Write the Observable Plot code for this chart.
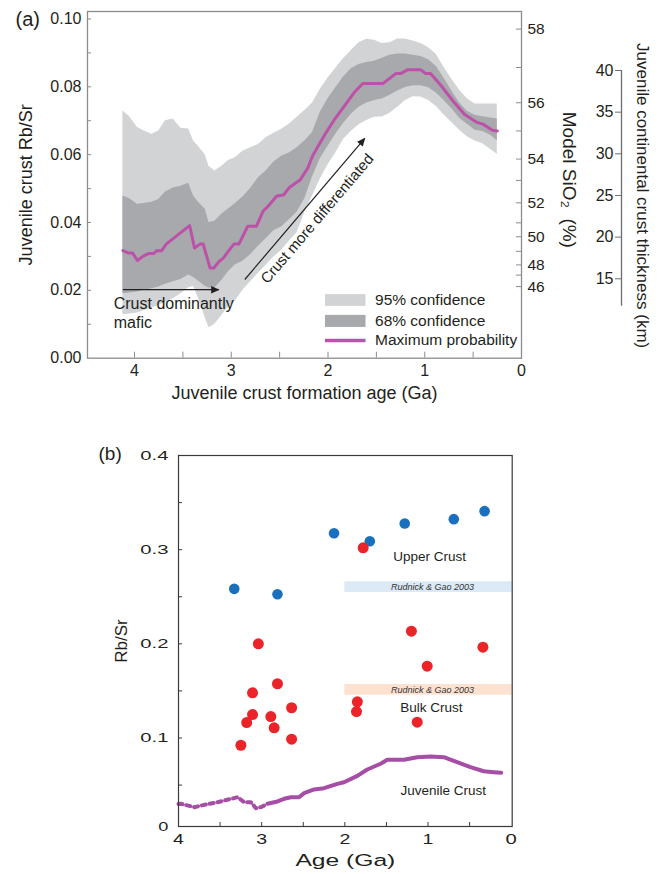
<!DOCTYPE html>
<html><head><meta charset="utf-8">
<script src="https://cdn.jsdelivr.net/npm/d3@7"></script>
<script src="https://cdn.jsdelivr.net/npm/@observablehq/plot@0.6"></script>
<style>
body{margin:0;background:#fff;}
#wrap{position:relative;width:658px;height:874px;}
</style></head><body><div id="wrap"></div>
<script>
// ---------- Panel (a) data ----------
const ageGridA = [4.12,4.05,3.97,3.90,3.82,3.75,3.68,3.60,3.52,3.44,3.39,3.33,3.27,3.23,3.17,3.10,3.03,2.96,2.88,2.80,2.72,2.64,2.56,2.48,2.40,2.32,2.24,2.16,2.08,2.00,1.92,1.84,1.76,1.68,1.60,1.52,1.44,1.36,1.28,1.20,1.12,1.04,0.96,0.88,0.80,0.72,0.64,0.56,0.48,0.40,0.32,0.25];
const upper95 = [0.0729,0.0712,0.0680,0.0670,0.0660,0.0670,0.0700,0.0705,0.0678,0.0676,0.0640,0.0621,0.0600,0.0565,0.0552,0.0565,0.0583,0.0591,0.0610,0.0620,0.0630,0.0650,0.0663,0.0675,0.0690,0.0710,0.0730,0.0752,0.0793,0.0826,0.0855,0.0883,0.0907,0.0930,0.0940,0.0937,0.0928,0.0930,0.0941,0.0941,0.0935,0.0928,0.0915,0.0895,0.0857,0.0822,0.0790,0.0765,0.0749,0.0749,0.0749,0.0749];
const upper68 = [0.0478,0.0470,0.0454,0.0456,0.0460,0.0468,0.0490,0.0502,0.0507,0.0516,0.0478,0.0457,0.0440,0.0400,0.0404,0.0424,0.0440,0.0455,0.0475,0.0500,0.0532,0.0552,0.0578,0.0595,0.0605,0.0620,0.0640,0.0665,0.0725,0.0765,0.0797,0.0829,0.0853,0.0866,0.0872,0.0875,0.0884,0.0893,0.0897,0.0897,0.0893,0.0889,0.0880,0.0860,0.0825,0.0788,0.0752,0.0728,0.0716,0.0712,0.0708,0.0705];
const lower68 = [0.0190,0.0192,0.0195,0.0200,0.0205,0.0210,0.0218,0.0225,0.0232,0.0245,0.0238,0.0225,0.0212,0.0207,0.0207,0.0228,0.0255,0.0275,0.0286,0.0305,0.0330,0.0352,0.0376,0.0387,0.0408,0.0430,0.0470,0.0535,0.0588,0.0625,0.0660,0.0692,0.0719,0.0740,0.0752,0.0760,0.0764,0.0775,0.0788,0.0798,0.0803,0.0803,0.0797,0.0782,0.0760,0.0735,0.0707,0.0690,0.0672,0.0668,0.0657,0.0641];
const lower95 = [0.0128,0.0130,0.0133,0.0140,0.0148,0.0155,0.0165,0.0175,0.0190,0.0208,0.0212,0.0170,0.0120,0.0090,0.0100,0.0125,0.0150,0.0168,0.0200,0.0225,0.0250,0.0274,0.0298,0.0318,0.0345,0.0370,0.0430,0.0478,0.0528,0.0570,0.0605,0.0645,0.0668,0.0688,0.0701,0.0710,0.0711,0.0722,0.0740,0.0760,0.0771,0.0770,0.0760,0.0742,0.0717,0.0695,0.0672,0.0653,0.0640,0.0632,0.0615,0.0601];
const maxProbAge = [4.12,4.06,4.02,3.97,3.91,3.85,3.80,3.77,3.72,3.67,3.43,3.38,3.32,3.29,3.22,3.18,3.13,3.08,3.01,2.97,2.92,2.83,2.74,2.67,2.62,2.53,2.46,2.40,2.29,2.21,2.16,2.10,2.02,1.93,1.83,1.73,1.64,1.43,1.30,1.25,1.18,1.04,0.99,0.94,0.83,0.71,0.59,0.46,0.40,0.30,0.25];
const maxProbVal = [0.0317,0.0310,0.0310,0.0288,0.0301,0.0309,0.0309,0.0317,0.0317,0.0337,0.0391,0.0325,0.0337,0.0337,0.0266,0.0266,0.0284,0.0296,0.0323,0.0337,0.0337,0.0389,0.0389,0.0434,0.0448,0.0478,0.0481,0.0503,0.0525,0.0560,0.0596,0.0626,0.0665,0.0705,0.0744,0.0783,0.0810,0.0810,0.0839,0.0839,0.0850,0.0850,0.0839,0.0839,0.0803,0.0759,0.0719,0.0695,0.0690,0.0672,0.0670];

const yTicksA = [0, 0.02, 0.04, 0.06, 0.08, 0.10];
const yMinorA = [0.01, 0.02, 0.03, 0.04, 0.05, 0.06, 0.07, 0.08, 0.09, 0.10];
const xTicksA = [4, 3, 2, 1, 0];
const xMinorA = [4, 3.5, 3, 2.5, 2, 1.5, 1, 0.5];
// Model SiO2 axis: label and its Rb/Sr equivalent
const sio2Labels = [46, 48, 50, 52, 54, 56, 58];
const sio2AtRbSr = [0.0211, 0.0275, 0.0358, 0.0458, 0.0587, 0.0753, 0.0970];
const sio2MinorAtRbSr = [0.0245, 0.0315, 0.0399, 0.0524, 0.0670, 0.0857];
// crust thickness axis (km)
const kmTicks = [15, 20, 25, 30, 35, 40];
const kmAxisRange = [11.7, 40];

const legendLabels = ["95% confidence", "68% confidence", "Maximum probability"];
const legendFills = ["#d1d3d4", "#a7a9ac", "#bd50a9"];

// ---------- Panel (b) data ----------
const upperCrustAge = [3.33, 2.81, 2.13, 1.70, 1.28, 0.69, 0.32];
const upperCrustRbSr = [0.2584, 0.2527, 0.3175, 0.3090, 0.3278, 0.3324, 0.3409];
const bulkCrustAge = [1.78, 1.20, 3.04, 2.81, 3.11, 2.64, 3.11, 2.89, 3.18, 2.85, 2.64, 3.25, 1.85, 1.86, 0.34, 1.01, 1.13];
const bulkCrustRbSr = [0.3020, 0.2134, 0.2000, 0.1576, 0.1480, 0.1321, 0.1249, 0.1228, 0.1164, 0.1108, 0.0987, 0.0923, 0.1384, 0.1281, 0.1964, 0.1762, 0.1168];
const juvDotAge = [4.00, 3.97, 3.81, 3.69, 3.53, 3.29, 3.21, 3.13, 3.07, 3.01, 2.93];
const juvDotVal = [0.0300, 0.0301, 0.0265, 0.0290, 0.0318, 0.0371, 0.0318, 0.0318, 0.0254, 0.0265, 0.0300];
const juvAge = [2.93, 2.81, 2.73, 2.65, 2.55, 2.49, 2.37, 2.25, 2.09, 2.01, 1.85, 1.73, 1.57, 1.49, 1.29, 1.13, 0.97, 0.81, 0.65, 0.49, 0.33, 0.21, 0.12];
const juvVal = [0.0301, 0.0326, 0.0354, 0.0371, 0.0371, 0.0414, 0.0453, 0.0467, 0.0513, 0.0530, 0.0598, 0.0665, 0.0726, 0.0768, 0.0768, 0.0796, 0.0803, 0.0796, 0.0743, 0.0690, 0.0647, 0.0637, 0.0630];
const refBandLow = [0.2545, 0.1454];
const refBandHigh = [0.2659, 0.1568];
const refBandFill = ["#dce9f6", "#fde2d2"];
const refBandFromAge = 2.0;
const yTicksB = [0.1, 0.2, 0.3, 0.4];
const yMinorB = [0.05, 0.1, 0.15, 0.2, 0.25, 0.3, 0.35];
const xTicksB = [4, 3, 2, 1, 0];
const xMinorB = [3.5, 3, 2.5, 2, 1.5, 1, 0.5];
const yDomainB = [0.006, 0.4];
const xDomainB = [4, -0.012];

// ---------- helpers ----------
const W = 658;
const font = "'Liberation Sans', Arial, Helvetica, sans-serif";
const ink = "#231f20";
const axisGray = "#8c8c8c";
const wrap = document.getElementById("wrap");
function place(svg, top) {
  svg.style.position = "absolute";
  svg.style.left = "0px";
  svg.style.top = top + "px";
  svg.style.overflow = "visible";
  svg.style.background = "transparent";
  wrap.appendChild(svg);
}
const T = {textAnchor: "middle", lineAnchor: "middle", fill: ink};

// ---------- Panel (a) ----------
const HA = 410, mLA = 87, mRA = 137, mTA = 11, mBA = 52.3;
const innerWA = W - mLA - mRA, innerHA = HA - mTA - mBA;
const rowsA = ageGridA.map((a, i) => ({age: a, u95: upper95[i], l95: lower95[i], u68: upper68[i], l68: lower68[i]}));
const maxRows = maxProbAge.map((a, i) => ({age: a, v: maxProbVal[i]}));
const sio2Rows = sio2Labels.map((s, i) => ({s, y: sio2AtRbSr[i]}));
const legendRows = legendLabels.map((t, i) => ({t, fill: legendFills[i],
  x1: 2.026, x2: 1.607, xt: 1.514,
  y: [0.01726, 0.01105, 0.00523][i], y1: [0.01528, 0.00907][i], y2: [0.01874, 0.01262][i]}));
const arrowsA = [
  {x1: 4.12, y1: 0.0202, x2: 3.13, y2: 0.0202},
  {x1: 2.86, y1: 0.0232, x2: 1.62, y2: 0.0648}
];
const notesMafic = [
  {t: "Crust dominantly", x: 4.215, y: 0.0160},
  {t: "mafic", x: 4.215, y: 0.0103}
];
const noteDiff = [{t: "Crust more differentiated", x: 2.111, y: 0.0411}];

const svgA = Plot.plot({
  width: W, height: HA, marginLeft: mLA, marginRight: mRA, marginTop: mTA, marginBottom: mBA,
  x: {domain: [4.486, 0], axis: null},
  y: {domain: [0, 0.1022], axis: null},
  style: {fontFamily: font, background: "transparent", overflow: "visible", color: ink},
  marks: [
    Plot.areaY(rowsA, {x: "age", y1: "l95", y2: "u95", fill: "#d1d3d4"}),
    Plot.areaY(rowsA, {x: "age", y1: "l68", y2: "u68", fill: "#a7a9ac"}),
    Plot.line(maxRows, {x: "age", y: "v", stroke: "#bd50a9", strokeWidth: 3, strokeLinejoin: "round"}),
    // legend
    Plot.rect(legendRows.slice(0, 2), {x1: "x1", x2: "x2", y1: "y1", y2: "y2", fill: "fill"}),
    Plot.ruleY(legendRows.slice(2), {x1: "x1", x2: "x2", y: "y", stroke: "fill", strokeWidth: 3.5}),
    Plot.text(legendRows, {...T, x: "xt", y: "y", text: "t", textAnchor: "start", fontSize: 15.5}),
    // annotations
    Plot.link(arrowsA, {x1: "x1", y1: "y1", x2: "x2", y2: "y2", stroke: ink, strokeWidth: 1.2, markerEnd: "arrow"}),
    Plot.text(notesMafic, {...T, x: "x", y: "y", text: "t", textAnchor: "start", fontSize: 16}),
    Plot.text(noteDiff, {...T, x: "x", y: "y", text: "t", rotate: -49.5, fontSize: 15}),
    // frame and ticks
    Plot.frame({stroke: axisGray, strokeWidth: 1.3}),
    Plot.tickY(yMinorA, {y: d => d, stroke: axisGray, insetRight: innerWA - 4}),
    Plot.tickX(xMinorA, {x: d => d, stroke: axisGray, insetTop: innerHA - 6}),
    Plot.tickY(sio2AtRbSr.concat(sio2MinorAtRbSr), {y: d => d, stroke: axisGray, insetLeft: innerWA - 5}),
    Plot.text(yTicksA, {...T, y: d => d, text: d => d.toFixed(2), frameAnchor: "left", textAnchor: "end", dx: -6, fontSize: 16}),
    Plot.text(xTicksA, {...T, x: d => d, text: d => String(d), frameAnchor: "bottom", dy: 12.5, fontSize: 16}),
    Plot.text(sio2Rows, {...T, y: "y", text: d => String(d.s), frameAnchor: "right", textAnchor: "start", dx: 6, fontSize: 15.5}),
    // titles
    Plot.text(["Juvenile crust Rb/Sr"], {...T, text: d => d, frameAnchor: "left", dx: -61, rotate: -90, fontSize: 18}),
    Plot.text(["(a)"], {...T, text: d => d, frameAnchor: "top-left", textAnchor: "start", dx: -72, dy: 8.5, fontSize: 20}),
    Plot.text(["Juvenile crust formation age (Ga)"], {...T, text: d => d, frameAnchor: "bottom", dy: 35, fontSize: 18}),
    Plot.text(["Model SiO\u2082  (%)"], {...T, text: d => d, frameAnchor: "right", dx: 48, dy: -5, rotate: 90, fontSize: 19})
  ]
});
// filled arrow heads
d3.select(svgA).selectAll("marker")
  .attr("viewBox", "-10 -6 12 12").attr("markerWidth", 8.33).attr("markerHeight", 8.33)
  .attr("fill", ink).attr("stroke", "none")
  .select("path").attr("d", "M-9,-4.5L1,0L-9,4.5Z");
place(svgA, 0);

// ---------- thickness axis (own scale) ----------
const kmTop = 70, kmBottom = HA - 278.3, kmLeft = 621, kmRight = 27;
const innerWkm = W - kmLeft - kmRight;
const svgKm = Plot.plot({
  width: W, height: HA, marginLeft: kmLeft, marginRight: kmRight, marginTop: kmTop, marginBottom: kmBottom,
  x: {domain: [0, 1], axis: null},
  y: {domain: [15, 40], axis: null},
  style: {fontFamily: font, background: "transparent", overflow: "visible", color: ink},
  marks: [
    Plot.ruleX([0], {x: d => d, y1: kmAxisRange[0], y2: kmAxisRange[1], stroke: "#6d6e71", strokeWidth: 1.3}),
    Plot.tickY(kmTicks, {y: d => d, stroke: "#6d6e71", insetLeft: -6, insetRight: innerWkm}),
    Plot.text(kmTicks, {...T, y: d => d, text: d => String(d), frameAnchor: "left", textAnchor: "end", dx: -8, fontSize: 16}),
    Plot.text(["Juvenile continental crust thickness (km)"], {...T, text: d => d, frameAnchor: "left", dx: 20.7, dy: 21, rotate: 90, fontSize: 17})
  ]
});
place(svgKm, 0);

// ---------- Panel (b) ----------
const HB = 464, mLB = 178, mRB = 146.3, mTB = 45, mBB = 48;
const innerWB = W - mLB - mRB, innerHB = HB - mTB - mBB;
const upperRows = upperCrustAge.map((a, i) => ({a, v: upperCrustRbSr[i]}));
const bulkRows = bulkCrustAge.map((a, i) => ({a, v: bulkCrustRbSr[i]}));
const juvDotRows = juvDotAge.map((a, i) => ({a, v: juvDotVal[i]}));
const juvRows = juvAge.map((a, i) => ({a, v: juvVal[i]}));
const bandRows = refBandLow.map((lo, i) => ({lo, hi: refBandHigh[i], fill: refBandFill[i], mid: (lo + refBandHigh[i]) / 2}));
const labelsB = [
  {t: "Upper Crust", a: 0.98, v: 0.2927},
  {t: "Bulk Crust", a: 0.96, v: 0.1321},
  {t: "Juvenile Crust", a: 0.817, v: 0.0442}
];
const yLabB = [{v: yDomainB[0], t: "0"}].concat(yTicksB.map(v => ({v, t: String(v)})));
const purple = "#a64da6";

const svgB = Plot.plot({
  width: W, height: HB, marginLeft: mLB, marginRight: mRB, marginTop: mTB, marginBottom: mBB,
  x: {domain: xDomainB, axis: null},
  y: {domain: yDomainB, axis: null},
  style: {fontFamily: font, background: "transparent", overflow: "visible", color: ink},
  marks: [
    Plot.rect(bandRows, {x1: refBandFromAge, x2: xDomainB[1], y1: "lo", y2: "hi", fill: "fill"}),
    Plot.text(bandRows, {...T, x: 0.945, y: "mid", text: () => "Rudnick & Gao 2003", fontSize: 9, fontStyle: "italic", fill: "#333"}),
    Plot.line(juvDotRows, {x: "a", y: "v", stroke: purple, strokeWidth: 4, strokeDasharray: "4 4"}),
    Plot.line(juvRows, {x: "a", y: "v", stroke: purple, strokeWidth: 4, strokeLinejoin: "round"}),
    Plot.dot(upperRows, {x: "a", y: "v", r: 5.3, fill: "#1a70bd"}),
    Plot.dot(bulkRows, {x: "a", y: "v", r: 5.5, fill: "#ea2428"}),
    Plot.text(labelsB, {...T, x: "a", y: "v", text: "t", fontSize: 13.5}),
    Plot.frame({stroke: "#3a3a3a", strokeWidth: 1.2}),
    Plot.tickY(yMinorB, {y: d => d, stroke: "#3a3a3a", insetRight: innerWB - 4}),
    Plot.tickX(xMinorB, {x: d => d, stroke: "#3a3a3a", insetTop: innerHB - 4}),
    Plot.text(yLabB, {...T, y: "v", text: "t", frameAnchor: "left", textAnchor: "end", dx: -10, fontSize: 13.5}),
    Plot.text(xTicksB, {...T, x: d => d, text: d => String(d), frameAnchor: "bottom", dy: 12.5, fontSize: 15}),
    Plot.text(["Rb/Sr"], {...T, text: d => d, frameAnchor: "left", dx: -57, rotate: -90, fontSize: 17}),
    Plot.text(["(b)"], {...T, text: d => d, frameAnchor: "top-left", textAnchor: "start", dx: -80, dy: -2, fontSize: 19}),
    Plot.text(["Age (Ga)"], {...T, text: d => d, frameAnchor: "bottom", dy: 34, fontSize: 17})
  ]
});
// horizontally widened lettering of panel (b) axes
const stretch = new Map([["Age (Ga)", 1.45], ["0.1", 1.5], ["0.2", 1.5], ["0.3", 1.5], ["0.4", 1.5], ["0", 1.35], ["1", 1.3], ["2", 1.3], ["3", 1.3], ["4", 1.3]]);
d3.select(svgB).selectAll("text").each(function () {
  const k = stretch.get(this.textContent);
  if (k) this.setAttribute("transform", (this.getAttribute("transform") || "") + ` scale(${k},1)`);
});
place(svgB, 410);
</script></body></html>
